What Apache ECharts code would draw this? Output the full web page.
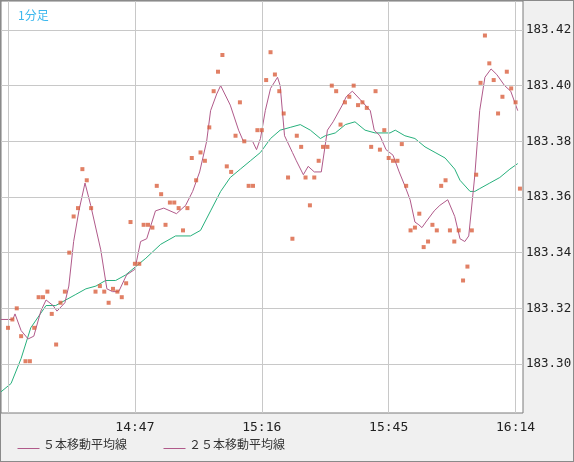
<!DOCTYPE html>
<html><head><meta charset="utf-8">
<script src="https://cdn.jsdelivr.net/npm/echarts@6/dist/echarts.min.js"></script>
<style>html,body{margin:0;padding:0;background:#f0f0f0}#c{width:574px;height:462px;box-sizing:border-box;border:1px solid #8a8a8a}</style>
</head><body><div id="c"></div>
<script>
const startMinute = 14*60+18;
const prices = [183.313,183.316,183.320,183.310,183.301,183.301,183.313,183.324,183.324,183.326,183.318,183.307,183.322,183.326,183.340,183.353,183.356,183.370,183.366,183.356,183.326,183.328,183.326,183.322,183.327,183.326,183.324,183.329,183.351,183.336,183.336,183.350,183.350,183.349,183.364,183.361,183.350,183.358,183.358,183.356,183.348,183.356,183.374,183.366,183.376,183.373,183.385,183.398,183.405,183.411,183.371,183.369,183.382,183.394,183.380,183.364,183.364,183.384,
183.384,183.402,183.412,183.404,183.398,183.390,183.367,183.345,183.382,183.378,183.367,183.357,183.367,183.373,183.378,183.378,183.400,183.398,183.386,183.394,183.396,183.400,183.393,183.394,183.392,183.378,183.398,183.377,183.384,183.374,183.373,183.373,183.379,183.364,183.348,183.349,183.354,183.342,183.344,183.350,183.348,183.364,183.366,183.348,183.344,183.348,183.330,183.335,183.348,183.368,183.401,183.418,183.408,183.402,183.390,183.396,183.405,183.399,183.394,183.363];
const ma5 = [[-1.6,183.316],[1.1,183.316],[1.6,183.318],[3.0,183.312],[4.6,183.309],[5.9,183.310],[7.5,183.319],[8.7,183.323],[10.3,183.321],[11.2,183.319],[13.0,183.322],[13.9,183.328],[15.0,183.344],[16.2,183.355],[17.6,183.365],[18.9,183.357],[21.2,183.341],[22.6,183.327],[23.9,183.326],[25.3,183.326],[27.1,183.332],[29.0,183.334],[30.3,183.344],[31.7,183.345],[33.7,183.355],[35.6,183.356],[38.5,183.354],[40.6,183.357],[42.2,183.362],[43.8,183.369],[45.4,183.380],[46.3,183.391],[47.7,183.397],[48.6,183.400],[50.8,183.393],[52.7,183.384],[53.8,183.380],[55.9,183.380],[56.8,183.377],[57.7,183.381],[58.8,183.391],[60.0,183.399],[61.6,183.403],[62.2,183.400],[63.2,183.382],[65.0,183.376],[65.9,183.373],[67.5,183.368],[68.6,183.371],[70.0,183.369],[71.6,183.369],[73.0,183.384],[74.3,183.387],[76.4,183.393],[77.3,183.396],[78.7,183.398],[80.5,183.395],[82.8,183.391],[83.7,183.384],[85.0,183.382],[86.4,183.377],[88.0,183.375],[89.4,183.369],[90.7,183.364],[91.9,183.359],[93.0,183.351],[93.9,183.350],[94.6,183.349],[95.5,183.351],[97.4,183.355],[98.7,183.357],[100.5,183.359],[102.1,183.353],[103.3,183.345],[104.4,183.344],[105.3,183.346],[106.7,183.368],[107.8,183.391],[109.0,183.403],[110.4,183.406],[111.7,183.404],[113.5,183.400],[114.9,183.398],[116.5,183.391]];
const ma25 = [[-1.6,183.290],[0.7,183.293],[3.0,183.302],[5.2,183.313],[8.7,183.321],[10.9,183.321],[13.2,183.323],[15.5,183.325],[17.8,183.327],[20.1,183.328],[22.3,183.330],[24.6,183.330],[26.9,183.332],[29.2,183.335],[31.5,183.338],[34.9,183.343],[38.3,183.346],[41.7,183.346],[44.0,183.348],[46.3,183.355],[48.6,183.362],[50.8,183.367],[53.1,183.370],[55.4,183.373],[57.7,183.376],[60.0,183.381],[62.2,183.384],[64.5,183.385],[66.8,183.386],[69.1,183.384],[71.4,183.381],[72.5,183.382],[74.8,183.383],[77.1,183.386],[79.3,183.387],[81.6,183.384],[83.9,183.383],[87.3,183.383],[88.5,183.384],[90.7,183.382],[93.0,183.381],[95.3,183.378],[97.6,183.376],[99.9,183.374],[102.1,183.370],[103.3,183.366],[105.6,183.362],[106.7,183.362],[107.8,183.363],[110.1,183.365],[112.4,183.367],[114.7,183.370],[116.5,183.372]];
const xTicks = [0,29,58,87,116];
const xLabelTicks = [29,58,87,116];
const yTicks = [183.30,183.32,183.34,183.36,183.38,183.40,183.42];
const legendNames = ['５本移動平均線','２５本移動平均線'];

const fmtTime = t => { const m = startMinute + t; return Math.floor(m/60)+':'+String(m%60).padStart(2,'0'); };
const chart = echarts.init(document.getElementById('c'));
const gridLine = {silent:true,symbol:'none',label:{show:false},lineStyle:{color:'#c8c8c8',type:'solid',width:1},animation:false};
const legendX = [14, 160];
const graphics = [];
legendNames.forEach((n,i)=>{
  graphics.push({type:'line',left:legendX[i],top:445,shape:{x1:0,y1:0,x2:22,y2:0},style:{stroke:'#b05a8a',lineWidth:1}});
  graphics.push({type:'text',left:legendX[i]+28,top:437,style:{text:n,fill:'#333',font:'12px "Noto Sans CJK JP"'}});
});
chart.setOption({
  animation:false,
  backgroundColor:'#f0f0f0',
  grid:{left:0,top:0,right:50,bottom:48,outerBoundsMode:'none',containLabel:false,show:true,backgroundColor:'#fff',borderColor:'#7a7a7a',borderWidth:1},
  title:{text:'1分足',left:12,top:3,textStyle:{color:'#3cb8ee',fontSize:12,fontWeight:'normal',fontFamily:'Noto Sans CJK JP'}},
  graphic:graphics,
  xAxis:{type:'value',min:-1.6,max:117.7,axisLine:{show:false},axisTick:{show:false},splitLine:{show:false},
    axisLabel:{customValues:xLabelTicks,formatter:v=>fmtTime(v),color:'#222',fontSize:13,fontFamily:'DejaVu Sans Mono',margin:8}},
  yAxis:{type:'value',position:'right',min:183.2824,max:183.4304,axisLine:{show:false},axisTick:{show:false},splitLine:{show:false},
    axisLabel:{customValues:yTicks,formatter:v=>v.toFixed(2),color:'#222',fontSize:12.5,fontFamily:'DejaVu Sans Mono',margin:3}},
  series:[
    {type:'line',name:'grid',data:[],markLine:Object.assign({data:xTicks.map(v=>({xAxis:v})).concat(yTicks.map(v=>({yAxis:v})))},gridLine)},
    {type:'line',name:legendNames[1],data:ma25,showSymbol:false,lineStyle:{color:'#27b07c',width:1},z:3},
    {type:'line',name:legendNames[0],data:ma5,showSymbol:false,lineStyle:{color:'#b05a8a',width:1},z:4},
    {type:'scatter',name:'price',data:prices.map((v,i)=>[i,v]),symbol:'rect',symbolSize:4,itemStyle:{color:'#d9603e'},z:5}
  ]
});
</script></body></html>
